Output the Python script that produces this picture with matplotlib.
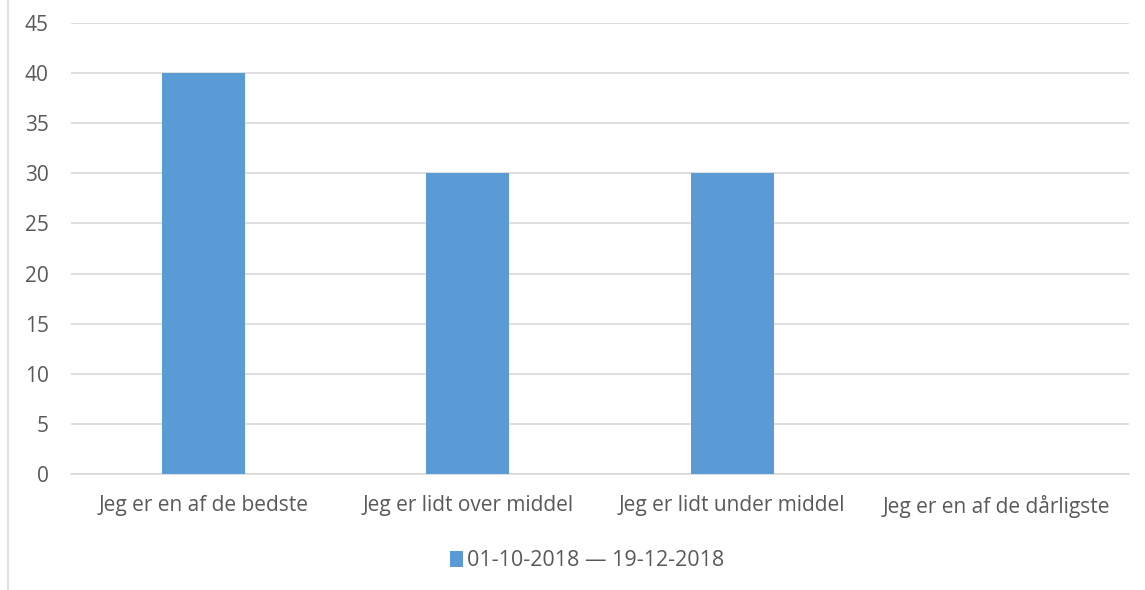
import matplotlib
matplotlib.use("Agg")
import matplotlib.pyplot as plt
from matplotlib.lines import Line2D
from matplotlib.patches import Patch

categories = ["Jeg er en af de bedste", "Jeg er lidt over middel",
              "Jeg er lidt under middel", "Jeg er en af de dårligste"]
values = [40, 30, 30, 0]
series_label = "01-10-2018 \u2014 19-12-2018"
yticks = [0, 5, 10, 15, 20, 25, 30, 35, 40, 45]

plt.rcParams['font.family'] = ['Open Sans', 'DejaVu Sans']
text_color = "#595959"
grid_color = "#D9D9D9"
bar_color = "#5B9BD5"

fig = plt.figure(figsize=(11.45, 5.9), dpi=100)
ax = fig.add_axes([71/1145, 1-474/590, (1129-71)/1145, (474-23)/590])

x = list(range(len(categories)))
ax.bar(x, values, width=0.315, color=bar_color, zorder=3)
ax.set_xlim(-0.5, len(categories)-0.5)
ax.set_ylim(0, 45)
ax.set_yticks(yticks)
ax.set_xticks(x)
ax.set_xticklabels(categories)
ax.tick_params(axis='both', length=0, labelsize=15, colors=text_color)
ax.tick_params(axis='x', pad=15)
ax.tick_params(axis='y', pad=16)
for t in ax.get_yticklabels():
    t.set_color(text_color)
ax.grid(axis='y', color=grid_color, linewidth=1.2, zorder=0)
for s in ["top", "right", "left"]:
    ax.spines[s].set_visible(False)
ax.spines["bottom"].set_color(grid_color)
ax.spines["bottom"].set_linewidth(1.2)

handle = Patch(facecolor=bar_color, edgecolor='none')
fig.legend([handle], [series_label], loc='center', bbox_to_anchor=(587/1145, 1-561/590),
           frameon=False, fontsize=15.5, handlelength=0.6, handleheight=0.7,
           handletextpad=0.2, labelcolor=text_color)

fig.add_artist(Line2D([7.5/1145, 7.5/1145], [0, 1], color=grid_color, linewidth=1.2))

fig.savefig("out.png", dpi=100, facecolor="white")
